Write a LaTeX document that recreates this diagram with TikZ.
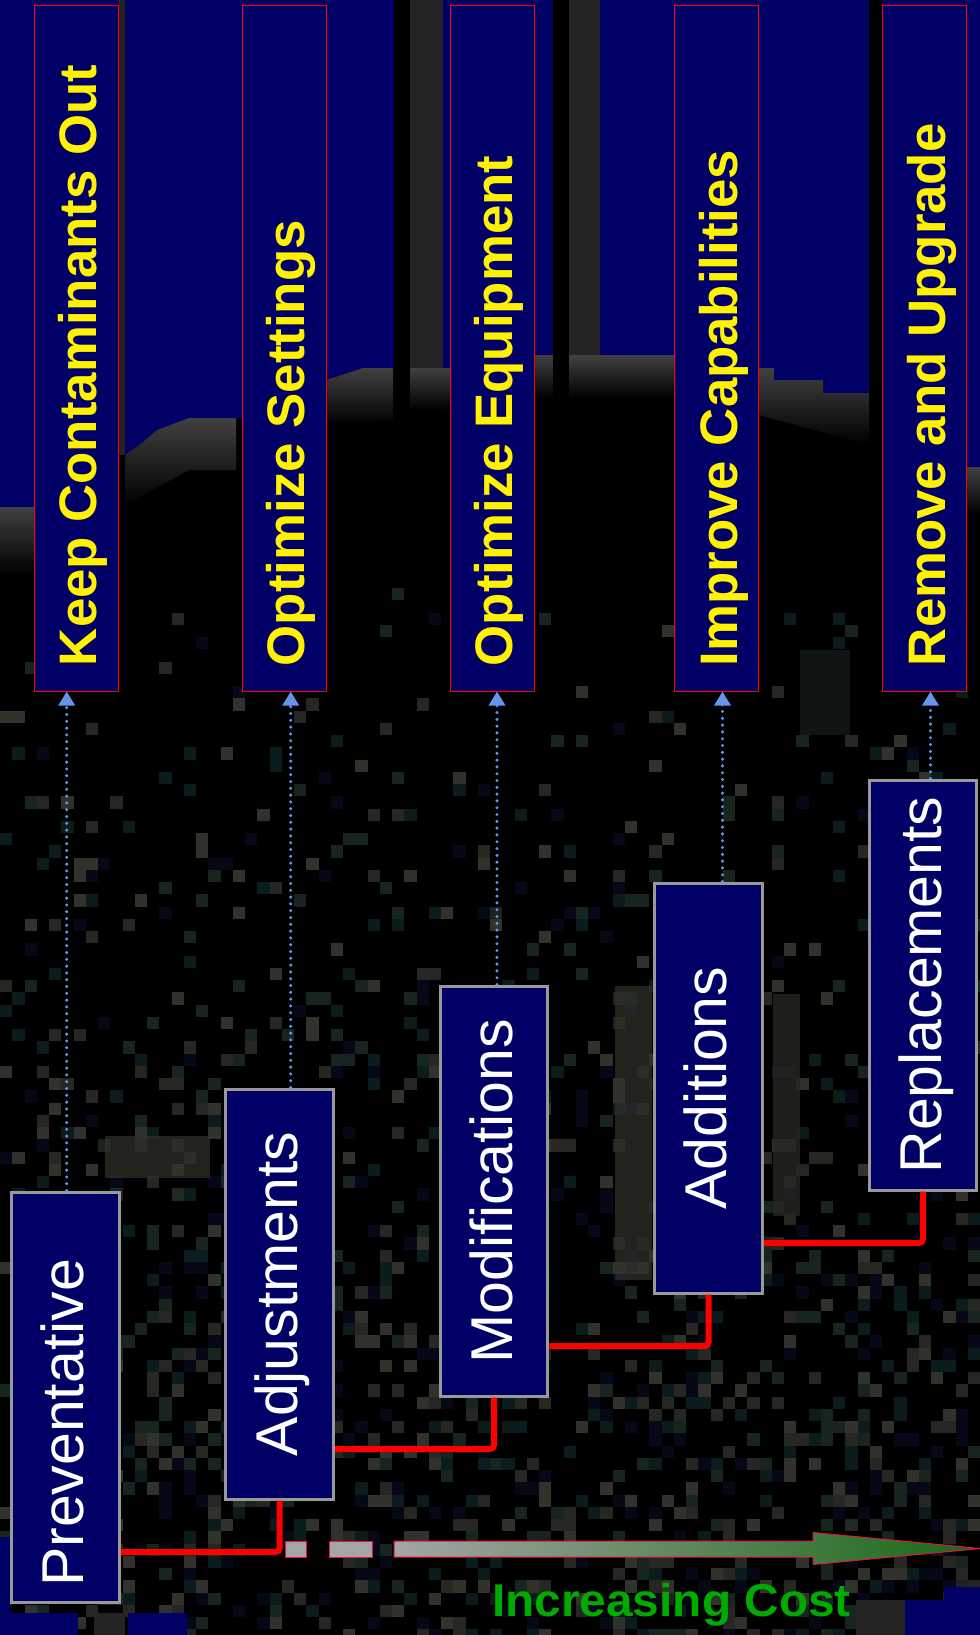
\documentclass[tikz,border=0pt]{standalone}
\usepackage{fontspec}
\setmainfont{Liberation Sans}
\usetikzlibrary{positioning, arrows.meta}

\definecolor{boxnavy}{RGB}{0,0,102}
\definecolor{bandgray}{RGB}{64,64,64}
\definecolor{polegray}{RGB}{36,36,36}
\definecolor{framegray}{RGB}{153,153,153}
\definecolor{hintblue}{RGB}{100,149,237}
\definecolor{costgreen}{RGB}{0,170,0}
\definecolor{arrowgray}{RGB}{165,165,165}
\definecolor{arrowgreen}{RGB}{22,105,22}
\definecolor{edgered}{RGB}{230,20,60}
\definecolor{grain0}{RGB}{10,28,28}
\definecolor{grain1}{RGB}{24,36,32}
\definecolor{grain2}{RGB}{38,38,34}
\definecolor{grain3}{RGB}{6,8,24}
\definecolor{grain4}{RGB}{50,50,44}

\begin{document}
\begin{tikzpicture}[
        x=0.5pt, y=-0.5pt, >=Stealth,
        stage/.style={rectangle, draw=framegray, line width=1.5pt, fill=boxnavy, minimum width=53.8pt, minimum height=205pt, inner sep=0pt},
        goal/.style={rectangle, draw=red, line width=0.5pt, fill=boxnavy, minimum width=41.75pt, minimum height=343pt, inner sep=0pt},
        stagetext/.style={rotate=90, anchor=base, inner sep=0pt, text=white, font=\fontsize{29.5pt}{32pt}\selectfont},
        goaltext/.style={rotate=90, anchor=base west, inner sep=0pt, text=yellow, font=\bfseries\fontsize{26.4pt}{30pt}\selectfont},
        costline/.style={draw=red, line width=3pt, rounded corners=2pt},
        hint/.style={draw=hintblue, line width=1.7pt, line cap=round, dash pattern=on 0pt off 3.4pt, -{Triangle[width=8pt, length=7pt]}},
        band/.style={top color=bandgray, bottom color=black},
        costbar/.style={fill=arrowgray, draw=edgered, line width=0.5pt}
    ]

        \useasboundingbox (0,0) rectangle (980,1635);

        % --- BACKGROUND ---
        \fill[black] (0,0) rectangle (980,1635);

        \pgfmathsetseed{4213}
        \foreach \i in {0,...,79}{
            \foreach \j in {48,...,133}{
                \pgfmathsetmacro\grainp{0.03+0.32*(\j-48)/85}
                \pgfmathsetmacro\grainr{rnd}
                \pgfmathtruncatemacro\grainc{5*rnd}
                \ifdim\grainr pt<\grainp pt
                    \fill[grain\grainc] (\i*12.25,\j*12.25) rectangle ++(12.25,12.25);
                \fi
            }
        }
        \fill[grain4, opacity=0.7] (105,1136) rectangle (210,1178);
        \fill[grain4, opacity=0.7] (615,986) rectangle (652,1280);
        \fill[grain2, opacity=0.8] (773,994) rectangle (800,1216);
        \fill[grain1, opacity=0.6] (800,650) rectangle (850,735);

        % sky
        \fill[boxnavy] (0,0) -- (980,0) -- (980,467) -- (967,467) -- (967,393) -- (823,393)
            -- (823,380) -- (774,380) -- (774,368) -- (759,368) -- (759,355) -- (535,355)
            -- (535,368) -- (363,368) -- (326,380) -- (326,418) -- (189,418) -- (157,430)
            -- (142,443) -- (125,455) -- (119,455) -- (34,507) -- (0,507) -- cycle;
        \shade[band] (0,507) rectangle (34,575);
        \shade[band] (125,455) -- (142,443) -- (157,430) -- (189,418) -- (236,418) -- (236,470) -- (189,470) -- (125,505) -- cycle;
        \shade[band] (326,380) -- (363,368) -- (393,368) -- (393,420) -- (326,425) -- cycle;
        \shade[band] (410,368) rectangle (450,410);
        \shade[band] (535,355) rectangle (674,398);
        \shade[band] (759,368) -- (774,368) -- (774,380) -- (823,380) -- (823,393) -- (869,393) -- (869,445) -- (759,415) -- cycle;
        \shade[band] (967,467) rectangle (980,515);

        % poles
        \fill[black] (394,0) rectangle (410,405);
        \fill[black] (553,0) rectangle (569,400);
        \fill[black] (869,0) rectangle (882,420);
        \fill[polegray] (410,0) rectangle (443,368);
        \fill[polegray] (569,0) rectangle (600,355);
        \fill[polegray] (119,0) rectangle (125,455);

        % bottom corners
        \fill[boxnavy] (0,1537) rectangle (10,1635);
        \fill[boxnavy] (0,1613) rectangle (78,1635);
        \fill[polegray] (94,1613) rectangle (125,1635);
        \fill[boxnavy] (128,1613) rectangle (187,1635);
        \fill[polegray] (856,1600) rectangle (905,1635);
        \fill[boxnavy] (905,1600) rectangle (980,1635);
        \fill[boxnavy] (944,1587) rectangle (980,1600);

        % --- GOALS (top row) ---
        \node[goal] (keep)  at (76.6, 348) {};
        \node[goal] (sett)  at (284.5, 348) {};
        \node[goal] (equip) at (492.5, 348) {};
        \node[goal] (capab) at (716.6, 348) {};
        \node[goal] (upgr)  at (924.6, 348) {};

        \node[goaltext] at ([xshift=10.2pt, yshift=12.5pt]keep.south)  {Keep Contaminants Out};
        \node[goaltext] at ([xshift=10.2pt, yshift=12.5pt]sett.south)  {Optimize Settings};
        \node[goaltext] at ([xshift=10.2pt, yshift=12.5pt]equip.south) {Optimize Equipment};
        \node[goaltext] at ([xshift=10.2pt, yshift=12.5pt]capab.south) {Improve Capabilities};
        \node[goaltext] at ([xshift=10.2pt, yshift=12.5pt]upgr.south)  {Remove and Upgrade};

        % --- STAGES (staircase) ---
        \node[stage] (prev) at (65.5, 1397) {};
        \node[stage] (adj)  at (279.5, 1294) {};
        \node[stage] (mod)  at (494, 1191) {};
        \node[stage] (add)  at (708.5, 1088) {};
        \node[stage] (repl) at (923, 985) {};

        \node[stagetext] at ([xshift=9pt, yshift=-13pt]prev.center) {Preventative};
        \node[stagetext] at ([xshift=9pt]adj.center)  {Adjustments};
        \node[stagetext] at ([xshift=9pt]mod.center)  {Modifications};
        \node[stagetext] at ([xshift=9pt]add.center)  {Additions};
        \node[stagetext] at ([xshift=9pt]repl.center) {Replacements};

        % --- CONNECTIONS ---
        \draw[costline] ([yshift=-77.5pt]prev.east) -| (adj.south);
        \draw[costline] ([yshift=-77.5pt]adj.east) -| (mod.south);
        \draw[costline] ([yshift=-77.5pt]mod.east) -| (add.south);
        \draw[costline] ([yshift=-77.5pt]add.east) -| (repl.south);

        \draw[hint] ([xshift=0.6pt]prev.north) -- ([xshift=0.6pt]prev.north |- keep.south);
        \draw[hint] ([xshift=5.6pt]adj.north) -- ([xshift=5.6pt]adj.north |- sett.south);
        \draw[hint] ([xshift=1.5pt]mod.north) -- ([xshift=1.5pt]mod.north |- equip.south);
        \draw[hint] ([xshift=7pt]add.north) -- ([xshift=7pt]add.north |- capab.south);
        \draw[hint] ([xshift=3.75pt]repl.north) -- ([xshift=3.75pt]repl.north |- upgr.south);

        % --- COST ARROW ---
        \filldraw[costbar] (285,1541) rectangle (306,1557);
        \filldraw[costbar] (329,1541) rectangle (372,1557);
        \shade[left color=arrowgray, right color=arrowgreen, draw=edgered, line width=0.5pt]
            (394,1541) -- (813,1541) -- (813,1532.5) -- (980,1548.5) -- (813,1564.5) -- (813,1557) -- (394,1557) -- cycle;
        \node[anchor=base, inner sep=0pt, text=costgreen, xscale=1.04, font=\bfseries\fontsize{23pt}{26pt}\selectfont] (cost) at (671.5, 1616.7) {Increasing Cost};

    \end{tikzpicture}
\end{document}
